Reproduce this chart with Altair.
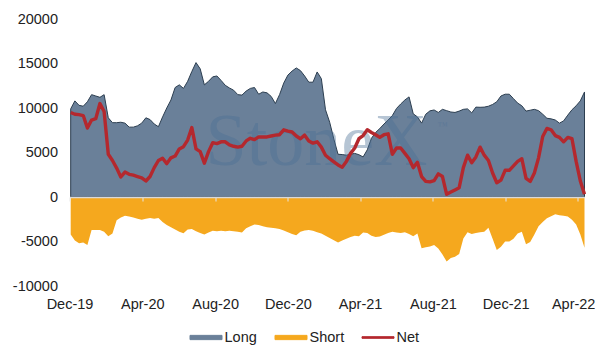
import altair as alt
import pandas as pd

# weekly observations, Dec 2019 - Apr 2022
dates = pd.date_range("2019-12-03", periods=124, freq="7D").strftime("%Y-%m-%d").tolist()

long_pos = [
    9900, 10800, 10300, 10200, 10700, 11500, 11350, 11200, 11500, 8900,
    8350, 8350, 8400, 8300, 7850, 7850, 8000, 8300, 8900, 8700,
    8200, 7900, 9000, 10000, 10900, 12300, 12600, 12200, 13000, 14100,
    15100, 14400, 12600, 13000, 13500, 13600, 13100, 12550, 12250, 12000,
    11500, 11450, 11900, 12200, 12300, 11550, 11800, 11700, 11300, 10500,
    11500, 12800, 13700, 14150, 14500, 14200, 13600, 12900, 12900, 14050,
    13300, 9800, 8400, 6500, 4800, 4770, 4700, 4800, 4900, 4750,
    4500, 5300, 6600, 7250, 7700, 8200, 8650, 9150, 9950, 10450,
    10900, 11250, 9350, 9000, 8300, 9300, 9680, 9780, 9500, 9850,
    9700, 9550, 9500, 9650, 9850, 9900, 9450, 10100, 10080, 10100,
    10200, 10400, 10700, 11350, 11550, 11550, 11050, 10550, 10250, 9650,
    9750, 9850, 9700, 9300, 8850, 8780, 8650, 8300, 8550, 9200,
    9800, 10250, 10800, 11800,
]

short_pos = [
    -4200, -4900, -5200, -5100, -5400, -3700, -3700, -3700, -3900, -4400,
    -4100, -2600, -2300, -2100, -2200, -2300, -2450, -2550, -2450, -2350,
    -2450, -2350, -2800, -3150, -3400, -3650, -3900, -4080, -3650, -3600,
    -3850, -4050, -4200, -4000, -3800, -3850, -3800, -3850, -3800, -3850,
    -3900, -4000, -3500, -3300, -3100, -3150, -3300, -3400, -3450, -3500,
    -3600, -3750, -3950, -4150, -4300, -3900, -3750, -3700, -3800, -3950,
    -4100, -4350, -4600, -4850, -5100, -4900, -4700, -4500, -4350, -4400,
    -4000, -4050, -4350, -4500, -4450, -4250, -4050, -3900, -4000, -4050,
    -3950, -4150, -4400, -4100, -5750, -5650, -5550, -5400, -5800, -6450,
    -7250, -6850, -6700, -6400, -4650, -3950, -4150, -4050, -3950, -3900,
    -3450, -4700, -5950, -5600, -5000, -5000, -4700, -4100, -3900, -5300,
    -5050, -4200, -3300, -2800, -2400, -2150, -1950, -2050, -2100, -2200,
    -2550, -3100, -4200, -5700,
]

net_pos = [
    9500, 9300, 9250, 9150, 7750, 8650, 8800, 10500, 9600, 4800,
    4100, 3250, 2250, 2800, 2550, 2450, 2300, 2150, 1800, 2300,
    3300, 4100, 4350, 3750, 4400, 4600, 5400, 5650, 6400, 7800,
    5400, 5100, 3800, 5100, 6100, 6000, 6200, 6200, 5850, 5700,
    5600, 5700, 6300, 6600, 6450, 6750, 6750, 6750, 6850, 6950,
    7000, 7550, 7400, 7300, 6850, 6550, 6950, 6300, 6050, 6200,
    5600, 4700, 4300, 3950, 3600, 3350, 4000, 4900, 5500, 6550,
    6900, 7550, 7250, 7000, 6700, 7000, 7100, 4800, 5500, 5500,
    4900, 4300, 3300, 3900, 2300, 1750, 1700, 1850, 2600, 2300,
    300, 550, 800, 1050, 3300, 4700, 3850, 4500, 5600, 4700,
    4100, 2700, 1600, 1900, 3000, 3000, 3500, 4000, 4300, 2100,
    1750, 2700, 4400, 6800, 7700, 7550, 6900, 6700, 6200, 6700,
    6550, 4000, 1800, 300,
]

series = ["Long", "Short", "Net"]
series_colors = ["#6a8099", "#f5a81e", "#b4282e"]
y_ticks = [-10000, -5000, 0, 5000, 10000, 15000, 20000]
x_tick_months = [(2019, 12), (2020, 4), (2020, 8), (2020, 12),
                 (2021, 4), (2021, 8), (2021, 12), (2022, 4)]

df = pd.DataFrame({"date": dates, "Long": long_pos, "Short": short_pos, "Net": net_pos})
mark_df = pd.DataFrame({"label": ["StoneX"]})
tm_df = pd.DataFrame({"label": ["\u2122"]})

FONT = "Liberation Sans"
TXT = "#222222"

x_enc = alt.X(
    "date:T",
    title=None,
    scale=alt.Scale(
        type="utc",
        domain=[alt.DateTime(year=2019, month=12, date=1, utc=True),
                alt.DateTime(year=2022, month=4, date=12, utc=True)],
    ),
    axis=alt.Axis(
        values=[alt.DateTime(year=y, month=m, date=1, utc=True) for y, m in x_tick_months],
        format="%b-%y",
        offset=-89,
        domain=True, domainColor="#d9d9d9", domainWidth=1.5,
        ticks=True, tickColor="#e6e6e6", tickSize=4, tickWidth=1,
        labelPadding=96, grid=False, zindex=1,
        labelFont=FONT, labelFontSize=14.5, labelColor=TXT,
        labelAlign={"condition": {"test": "datum.value >= utc(2022, 1, 1)", "value": "right"},
                    "value": "center"},
        labelOffset={"condition": {"test": "datum.value >= utc(2022, 1, 1)", "value": 17},
                     "value": 0},
    ),
)

y_scale = alt.Scale(domain=[-10000, 20000], nice=False)
y_axis = alt.Axis(values=y_ticks, domain=False, ticks=False, grid=False,
                  labelPadding=12, labelFont=FONT, labelFontSize=14.5, labelColor=TXT,
                  labelExpr="'' + datum.value")

color_scale = alt.Scale(domain=series, range=series_colors)
legend = alt.Legend(
    title=None, orient="none", direction="horizontal", legendX=120, legendY=302,
    labelFont=FONT, labelFontSize=14.5, labelColor=TXT, labelOffset=2,
    columnPadding=15, padding=0, symbolSize=1024, symbolOpacity=1,
    symbolStrokeWidth=1,
    symbolType={"expr": "datum.value === 'Net' ? 'M-1,-0.05H1V0.05H-1Z' : 'M-1,-0.133H1V0.133H-1Z'"},
    symbolStrokeColor={"expr": "datum.value === 'Long' ? '#2c3e50' : 'transparent'"},
)
color_enc = alt.Color("series:N", scale=color_scale, legend=legend)

base = alt.Chart(df)

long_area = base.transform_calculate(series="'Long'").mark_area(
    stroke="#2c3e50", strokeWidth=1, opacity=1
).encode(
    x=x_enc,
    y=alt.Y("Long:Q", scale=y_scale, axis=y_axis, title=None),
    y2=alt.datum(0),
    color=color_enc,
)

short_area = base.transform_calculate(series="'Short'").mark_area(opacity=1).encode(
    x=x_enc,
    y=alt.Y("Short:Q", scale=y_scale, axis=y_axis, title=None),
    y2=alt.datum(0),
    color=color_enc,
)

watermark = alt.Chart(mark_df).mark_text(
    font="Liberation Serif", fontSize=74, color="#4a6f95", opacity=0.4,
    align="center", baseline="alphabetic",
).encode(text="label:N", x=alt.value(247), y=alt.value(146))

tm = alt.Chart(tm_df).mark_text(
    font="Liberation Serif", fontSize=10, color="#4a6f95", opacity=0.4,
    align="center", baseline="alphabetic",
).encode(text="label:N", x=alt.value(373), y=alt.value(110))

net_line = base.transform_calculate(series="'Net'").mark_line(
    strokeWidth=3.4, strokeJoin="round"
).encode(
    x=x_enc,
    y=alt.Y("Net:Q", scale=y_scale, axis=y_axis, title=None),
    color=color_enc,
)

chart = alt.layer(long_area, short_area, watermark, tm, net_line).properties(
    width=515, height=267,
    autosize=alt.AutoSizeParams(type="none"),
    padding={"left": 61.5, "top": 11, "right": 10.5, "bottom": 66},
    background="white",
).configure_view(stroke=None)

chart.save("out.html", embed_options={"renderer": "svg", "actions": False})
